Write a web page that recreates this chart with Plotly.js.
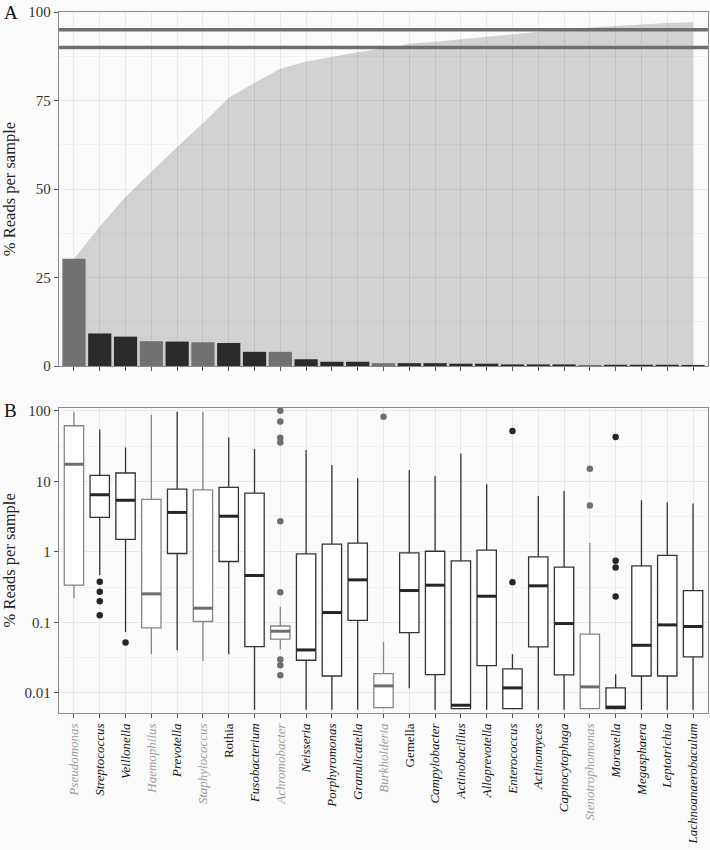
<!DOCTYPE html>
<html><head><meta charset="utf-8">
<script src="https://cdn.plot.ly/plotly-3.0.1.min.js"></script>
<style>html,body{margin:0;padding:0;background:#fbfbfb}</style>
</head><body>
<div id="chart" style="width:710px;height:850px"></div>
<script>
// ---------- data ----------
const genera = ['Pseudomonas','Streptococcus','Veillonella','Haemophilus','Prevotella','Staphylococcus','Rothia','Fusobacterium','Achromobacter','Neisseria','Porphyromonas','Granulicatella','Burkholderia','Gemella','Campylobacter','Actinobacillus','Alloprevotella','Enterococcus','Actinomyces','Capnocytophaga','Stenotrophomonas','Moraxella','Megasphaera','Leptotrichia','Lachnoanaerobaculum'];
const greyGenera = ['Pseudomonas','Haemophilus','Staphylococcus','Achromobacter','Burkholderia','Stenotrophomonas'];
const uprightGenera = ['Rothia','Gemella'];

// Panel A: mean % reads per genus and cumulative %
const meanReads = [30.3, 9.2, 8.3, 7.0, 6.9, 6.7, 6.5, 4.0, 4.0, 1.9, 1.2, 1.2, 0.8, 0.8, 0.8, 0.65, 0.65, 0.45, 0.45, 0.45, 0.3, 0.35, 0.35, 0.35, 0.3];
const cumulativeReads = [30.3, 39.4, 47.8, 54.9, 61.9, 68.6, 75.8, 80.0, 84.0, 86.0, 87.4, 88.6, 89.7, 91.0, 91.6, 92.3, 93.0, 93.8, 94.5, 95.1, 95.6, 96.1, 96.6, 96.9, 97.2];
const thresholds = [90, 95];

// Panel B: box statistics (% reads per sample)
const upperWhisker = [96.8, 54.4, 30.2, 87, 97, 97, 41.9, 28.6, 0.166, 27.7, 17.0, 11.1, 0.0529, 14.4, 11.9, 24.8, 9.1, 0.0354, 6.17, 7.26, 1.34, 0.0184, 5.4, 5.02, 4.85];
const q3 = [61.3, 12.1, 13.1, 5.53, 7.74, 7.57, 8.18, 6.8, 0.089, 0.937, 1.29, 1.33, 0.0188, 0.968, 1.02, 0.745, 1.06, 0.0219, 0.849, 0.607, 0.068, 0.0118, 0.633, 0.889, 0.283];
const median = [17.5, 6.44, 5.4, 0.254, 3.62, 0.159, 3.2, 0.462, 0.075, 0.0407, 0.138, 0.401, 0.0126, 0.283, 0.337, 0.0067, 0.235, 0.0118, 0.33, 0.0964, 0.0122, 0.0063, 0.0474, 0.0922, 0.0875];
const q1 = [0.337, 3.08, 1.5, 0.0836, 0.948, 0.103, 0.73, 0.0455, 0.0578, 0.0291, 0.0174, 0.107, 0.0062, 0.0718, 0.0182, 0.006, 0.0244, 0.006, 0.0449, 0.018, 0.006, 0.006, 0.0174, 0.0174, 0.0324];
const lowerWhisker = [0.218, 0.47, 0.073, 0.0354, 0.0404, 0.0284, 0.0354, 0.0058, 0.0417, 0.0058, 0.0058, 0.0058, 0.006, 0.0117, 0.0058, 0.006, 0.0058, 0.006, 0.0058, 0.0058, 0.006, 0.006, 0.0058, 0.0058, 0.0058];
const outlierGenus = ['Streptococcus','Streptococcus','Streptococcus','Streptococcus','Veillonella',
  'Achromobacter','Achromobacter','Achromobacter','Achromobacter','Achromobacter','Achromobacter','Achromobacter','Achromobacter','Achromobacter',
  'Burkholderia','Enterococcus','Enterococcus','Stenotrophomonas','Stenotrophomonas','Moraxella','Moraxella','Moraxella','Moraxella'];
const outlierValue = [0.376, 0.271, 0.2, 0.126, 0.052,
  100, 70.6, 41.4, 35.6, 2.72, 0.268, 0.0297, 0.0247, 0.0178,
  82.2, 51.5, 0.372, 15.0, 4.55, 42.4, 0.745, 0.6, 0.233];

const yTicksA = [0, 25, 50, 75, 100];
const yTicksB = [0.01, 0.1, 1, 10, 100];
const yTickTextB = ['0.01', '0.1', '1', '10', '100'];

// ---------- styling ----------
const FONT = '"Liberation Serif", "Times New Roman", serif';
const DARK = '#2b2b2b', GREY = '#717171';
const DARK_LINE = '#333333', GREY_LINE = '#858585';
const LABEL_DARK = '#111111', LABEL_GREY = '#9a9a9a';
const GRID = '#e8e8e8', MINOR = '#f2f2f2', BORDER = '#8a8a8a', BG = '#fbfbfb';

const idx = genera.map((_, i) => i);
const isGrey = genera.map(g => greyGenera.includes(g));
const xr = [-0.58, 24.58];

const tickText = genera.map((g, i) => {
  const t = uprightGenera.includes(g) ? g : '<i>' + g + '</i>';
  return '<span style="color:' + (isGrey[i] ? LABEL_GREY : LABEL_DARK) + '">' + t + '</span>';
});

const traces = [];
// cumulative area
traces.push({type: 'scatter', mode: 'lines', x: idx, y: cumulativeReads, fill: 'tozeroy',
  fillcolor: 'rgba(0,0,0,0.165)', line: {width: 0, color: 'rgba(0,0,0,0)'}, xaxis: 'x', yaxis: 'y', hoverinfo: 'skip'});
// bars (on overlay axes so they sit above the area)
traces.push({type: 'bar', x: idx, y: meanReads, width: 0.9, xaxis: 'x3', yaxis: 'y3',
  marker: {color: idx.map(i => isGrey[i] ? GREY : DARK), line: {width: 0}}, hoverinfo: 'skip'});

// boxes
[false, true].forEach(grey => {
  const sel = idx.filter(i => isGrey[i] === grey);
  traces.push({type: 'box', xaxis: 'x2', yaxis: 'y2', x: sel,
    q1: sel.map(i => q1[i]), median: sel.map(i => median[i]), q3: sel.map(i => q3[i]),
    lowerfence: sel.map(i => lowerWhisker[i]), upperfence: sel.map(i => upperWhisker[i]),
    width: 0.75, whiskerwidth: 0, boxpoints: false, fillcolor: '#ffffff',
    line: {color: grey ? GREY_LINE : DARK_LINE, width: 1.3}, hoverinfo: 'skip'});
  // thick median bars
  const mx = [], my = [];
  sel.forEach(i => { mx.push(i - 0.375, i + 0.375, null); my.push(median[i], median[i], null); });
  traces.push({type: 'scatter', mode: 'lines', x: mx, y: my, xaxis: 'x2', yaxis: 'y2',
    line: {color: grey ? '#6e6e6e' : '#262626', width: 3}, hoverinfo: 'skip'});
  // outliers
  const ox = [], oy = [];
  outlierGenus.forEach((g, k) => { const i = genera.indexOf(g); if (isGrey[i] === grey) { ox.push(i); oy.push(outlierValue[k]); } });
  traces.push({type: 'scatter', mode: 'markers', x: ox, y: oy, xaxis: 'x2', yaxis: 'y2',
    marker: {color: grey ? '#6e6e6e' : '#262626', size: 6.5, line: {width: 0}}, hoverinfo: 'skip'});
});

const minorLog = [-2, -1, 0, 1].map(k => Math.sqrt(10) * Math.pow(10, k));

const axisCommon = {showline: true, mirror: true, linecolor: BORDER, linewidth: 1.2,
  ticks: 'outside', ticklen: 4, tickwidth: 1, tickcolor: '#555', zeroline: false,
  showgrid: true, gridcolor: GRID, gridwidth: 1,
  tickfont: {family: FONT, size: 15, color: '#333'}};

const layout = {
  width: 710, height: 850,
  margin: {l: 59, r: 2, t: 12, b: 137},
  paper_bgcolor: BG, plot_bgcolor: BG,
  showlegend: false,
  font: {family: FONT, color: '#222'},
  xaxis: Object.assign({}, axisCommon, {domain: [0, 1], anchor: 'y', range: xr, tickmode: 'array',
    tickvals: idx, showticklabels: false}),
  yaxis: Object.assign({}, axisCommon, {domain: [0.495, 1], anchor: 'x', range: [0, 100], tickmode: 'array',
    tickvals: yTicksA, ticktext: yTicksA.map(String),
    minor: {tickmode: 'array', tickvals: [12.5, 37.5, 62.5, 87.5], showgrid: true, gridcolor: MINOR, ticks: ''},
    title: {text: '% Reads per sample', font: {family: FONT, size: 16.5, color: '#222'}, standoff: 10}}),
  xaxis3: {overlaying: 'x', anchor: 'y3', range: xr, visible: false},
  yaxis3: {overlaying: 'y', anchor: 'x3', range: [0, 100], visible: false},
  xaxis2: Object.assign({}, axisCommon, {domain: [0, 1], anchor: 'y2', range: xr, tickmode: 'array',
    tickvals: idx, ticktext: tickText, tickangle: -90,
    tickfont: {family: FONT, size: 13, color: LABEL_DARK}}),
  yaxis2: Object.assign({}, axisCommon, {domain: [0, 0.4355], anchor: 'x2', type: 'log',
    range: [-2.284, 2.043], tickmode: 'array', tickvals: yTicksB, ticktext: yTickTextB,
    minor: {tickmode: 'array', tickvals: minorLog, showgrid: true, gridcolor: MINOR, ticks: ''},
    title: {text: '% Reads per sample', font: {family: FONT, size: 16.5, color: '#222'}, standoff: 10}}),
  shapes: thresholds.map(t => ({type: 'line', xref: 'paper', x0: 0, x1: 1, yref: 'y', y0: t, y1: t,
    line: {color: '#6f6f6f', width: 3.5}, layer: 'above'})),
  annotations: [
    {text: 'A', xref: 'paper', yref: 'paper', x: -57 / 649, y: 1, xanchor: 'left', yanchor: 'middle',
      showarrow: false, font: {family: FONT, size: 19, color: '#111'}},
    {text: 'B', xref: 'paper', yref: 'paper', x: -57 / 649, y: 303 / 701, xanchor: 'left', yanchor: 'middle',
      showarrow: false, font: {family: FONT, size: 19, color: '#111'}}
  ]
};

Plotly.newPlot('chart', traces, layout, {staticPlot: true, displayModeBar: false});
</script>
</body></html>
